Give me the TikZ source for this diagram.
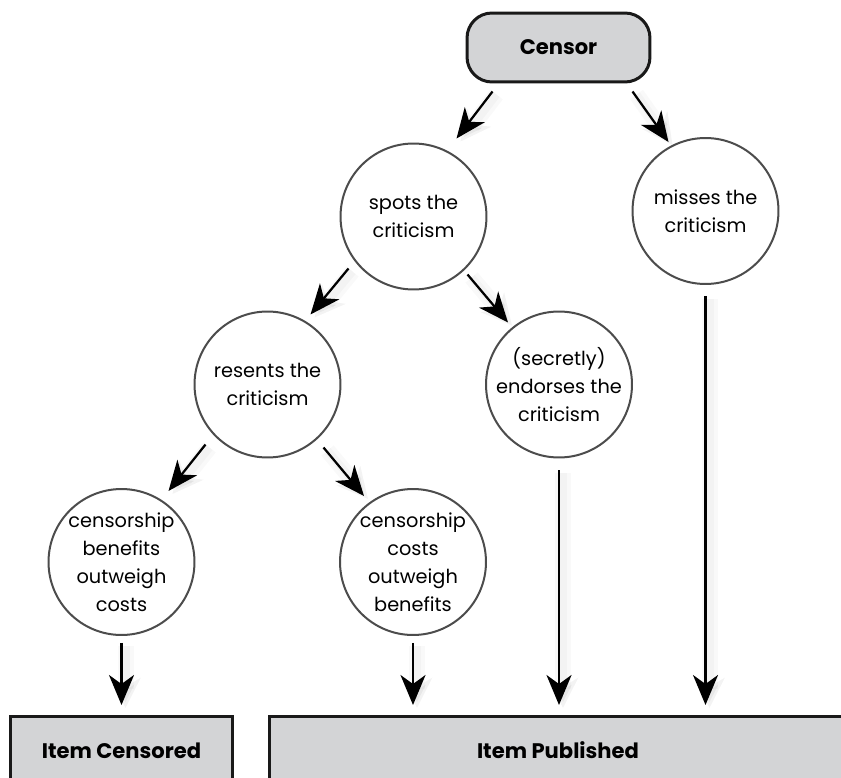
\documentclass[tikz,border=0pt]{standalone}
\usepackage{fontspec}
\setmainfont{Poppins}
\usepackage{tikz}
\usetikzlibrary{
    arrows.meta,
    calc,
    positioning
}
\definecolor{boxgray}{RGB}{211,212,214}
\tikzset{thought/.style={inner sep=0pt, circle, draw=black!70, fill=white, line width=0.04cm,
        minimum size=2.92cm, align=center, font=\fontsize{11}{15.9}\selectfont}}
\tikzset{outcome/.style={draw=black!90, fill=boxgray, line width=0.06cm,
        minimum height=1.36cm, font=\fontsize{12}{14}\selectfont\bfseries}}
\tikzset{glow/.style={draw=black, opacity=0.025, line width=#1, -{Stealth[length=0.6cm, width=0.6cm, inset=0.18cm]},
        transform canvas={shift={(0.08cm,-0.06cm)}}}}
\tikzset{flow/.style={line width=0.045cm, -{Stealth[length=0.6cm, width=0.5cm, inset=0.18cm]},
        preaction={glow=0.32cm}, preaction={glow=0.16cm}}}

\begin{document}
\begin{tikzpicture}[x=0.02cm, y=-0.02cm]
                        \clip (0, 0) rectangle (841, 777);

                        \node[outcome, rounded corners=0.5cm, minimum width=3.66cm, minimum height=1.38cm] (censor) at (558.5, 47.5) {Censor};

                        \node[thought] (spots) at (413.5, 216.5) {spots the\\criticism};
                        \node[thought] (misses) at (705.5, 211) {misses the\\criticism};
                        \node[thought] (resents) at (267.5, 384.5) {resents the\\criticism};
                        \node[thought] (endorses) at (559, 384.5) {(secretly)\\endorses the\\criticism};
                        \node[thought] (benefits) at (121.5, 562) {censorship\\benefits\\outweigh\\costs};
                        \node[thought] (costs) at (413, 562) {censorship\\costs\\outweigh\\benefits};

                        \node[outcome, anchor=north, minimum width=4.46cm] (censored) at (121.5, 715) {Item Censored};
                        \node[outcome, anchor=north, minimum width=11.56cm] (published) at (558, 715) {Item Published};

                        \draw[flow] ($(censor.south)+(-66, 8)$) -- ($(spots.north)+(43, -4)$);
                        \draw[flow] ($(censor.south)+(74, 8)$) -- ($(misses.north)+(-37, 5)$);
                        \draw[flow] ($(spots.center)+(-65, 52)$) -- ($(resents.center)+(43, -70)$);
                        \draw[flow] ($(spots.center)+(54, 58)$) -- ($(endorses.center)+(-51, -62)$);
                        \draw[flow] ($(resents.center)+(-62, 60)$) -- ($(benefits.center)+(47, -71)$);
                        \draw[flow] ($(resents.center)+(56, 63)$) -- ($(costs.center)+(-49, -66)$);

                        \draw[flow]
                        ($(benefits.south)+(0, 7)$) -- ($(benefits.south |- censored.north)+(0, -10)$);
                        \draw[flow]
                        ($(costs.south)+(0, 7)$) -- ($(costs.south |- published.north)+(0, -10)$);
                        \draw[flow]
                        ($(endorses.south)+(0, 12)$) -- ($(endorses.south |- published.north)+(0, -10)$);
                        \draw[flow]
                        ($(misses.south)+(0, 11)$) -- ($(misses.south |- published.north)+(0, -10)$);
                    \end{tikzpicture}
\end{document}
